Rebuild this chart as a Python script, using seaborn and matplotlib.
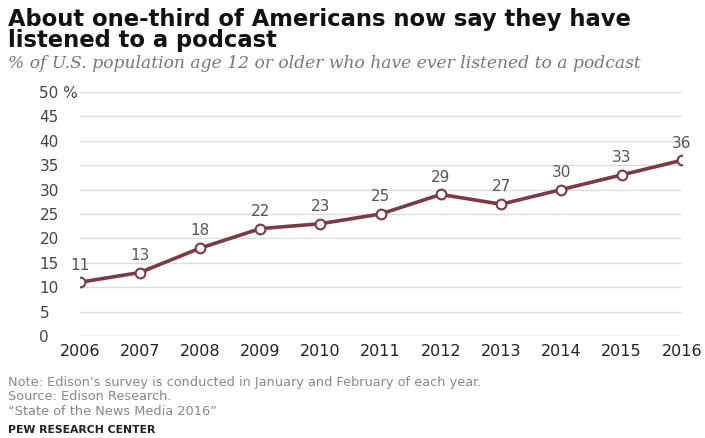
import matplotlib
matplotlib.use("Agg")
import matplotlib.pyplot as plt
import seaborn as sns
import pandas as pd

years = [2006, 2007, 2008, 2009, 2010, 2011, 2012, 2013, 2014, 2015, 2016]
values = [11, 13, 18, 22, 23, 25, 29, 27, 30, 33, 36]
yticks = [0, 5, 10, 15, 20, 25, 30, 35, 40, 45, 50]
ytick_labels = ["0", "5", "10", "15", "20", "25", "30", "35", "40", "45", "50 %"]

sns.set_theme(style="white")
plt.rcParams['font.family'] = ['DejaVu Sans']

df = pd.DataFrame({"year": years, "value": values})

fig = plt.figure(figsize=(7.05, 4.38), dpi=100)
ax = fig.add_axes([0.113, 0.233, 0.854, 0.557])

line_color = "#7b3a46"
sns.lineplot(data=df, x="year", y="value", ax=ax, color=line_color, linewidth=2.6,
             marker="o", markersize=7, markerfacecolor="white",
             markeredgecolor=line_color, markeredgewidth=1.5, zorder=3)

for x, y in zip(years, values):
    ax.annotate(str(y), (x, y), xytext=(0, 7), textcoords="offset points",
                ha="center", va="bottom", fontsize=11, color="#555555")

ax.set_ylim(0, 50)
ax.set_xlim(2006, 2016)
ax.set_yticks(yticks)
ax.set_yticklabels(ytick_labels)
ax.set_xticks(years)
ax.set_xticklabels([str(y) for y in years])
for y in yticks:
    ax.axhline(y, color="#dddddd" if y else "#c8c8c8", linewidth=1.0, zorder=1)
for s in ax.spines.values():
    s.set_visible(False)
ax.tick_params(axis="y", length=0, labelsize=11, labelcolor="#444444")
ax.tick_params(axis="x", length=0, labelsize=11.5, labelcolor="#222222", pad=6)
for lbl in ax.get_yticklabels():
    lbl.set_horizontalalignment("left")
ax.yaxis.set_tick_params(pad=29)
ax.set_xlabel("")
ax.set_ylabel("")
ax.grid(False)

fig.text(0.012, 0.955, "About one-third of Americans now say they have",
         fontsize=16.3, fontweight="bold", color="#111111", va="center")
fig.text(0.012, 0.907, "listened to a podcast",
         fontsize=16.3, fontweight="bold", color="#111111", va="center")
fig.text(0.012, 0.855, "% of U.S. population age 12 or older who have ever listened to a podcast",
         fontsize=12.3, style="italic", family="DejaVu Serif", color="#777777", va="center")

fig.text(0.012, 0.127, "Note: Edison's survey is conducted in January and February of each year.",
         fontsize=9.3, color="#888888", va="center")
fig.text(0.012, 0.094, "Source: Edison Research.",
         fontsize=9.3, color="#888888", va="center")
fig.text(0.012, 0.061, "\u201cState of the News Media 2016\u201d",
         fontsize=9.3, color="#888888", va="center")
fig.text(0.012, 0.018, "PEW RESEARCH CENTER",
         fontsize=7.8, fontweight="bold", color="#222222", va="center")

fig.savefig("out.png", dpi=100)
